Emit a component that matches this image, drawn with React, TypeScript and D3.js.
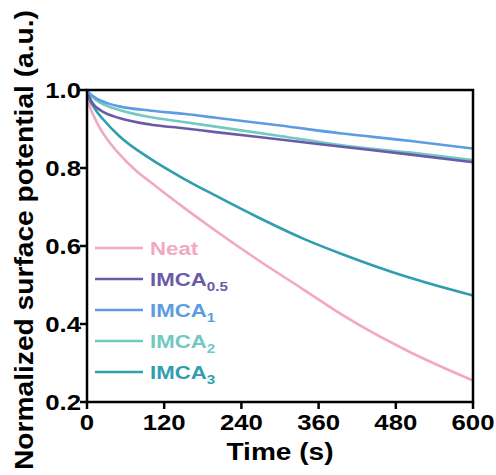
import React from "react";
import * as d3 from "d3";

const timeTicks = [0, 120, 240, 360, 480, 600];
const valueTicks = [0.2, 0.4, 0.6, 0.8, 1.0];

const neatT = [0, 2, 5, 10, 20, 30, 50, 75, 100, 150, 200, 264, 336, 400, 497, 600];
const neatV = [1.0, 0.975, 0.955, 0.935, 0.902, 0.877, 0.836, 0.795, 0.762, 0.699, 0.639, 0.566, 0.489, 0.42, 0.332, 0.255];

const imca05T = [0, 3, 8, 15, 25, 50, 100, 150, 200, 300, 393, 500, 600];
const imca05V = [1.0, 0.985, 0.968, 0.955, 0.944, 0.928, 0.911, 0.902, 0.892, 0.873, 0.855, 0.835, 0.815];

const imca1T = [0, 5, 15, 30, 50, 100, 150, 200, 300, 393, 500, 600];
const imca1V = [1.0, 0.99, 0.978, 0.967, 0.958, 0.947, 0.939, 0.929, 0.909, 0.889, 0.87, 0.85];

const imca2T = [0, 5, 15, 30, 50, 100, 150, 200, 300, 393, 500, 600];
const imca2V = [1.0, 0.988, 0.973, 0.96, 0.949, 0.93, 0.918, 0.906, 0.882, 0.859, 0.84, 0.82];

const imca3T = [0, 3, 8, 15, 25, 50, 100, 150, 200, 264, 336, 400, 497, 600];
const imca3V = [1.0, 0.98, 0.963, 0.945, 0.925, 0.882, 0.822, 0.773, 0.729, 0.675, 0.619, 0.577, 0.521, 0.473];

const seriesNames = ["Neat", "IMCA", "IMCA", "IMCA", "IMCA"];
const seriesSubs = ["", "0.5", "1", "2", "3"];
const seriesColors = ["#F2A8C4", "#6A5BA8", "#5C9CE2", "#72C8C2", "#2F9EAF"];
const seriesT = [neatT, imca05T, imca1T, imca2T, imca3T];
const seriesV = [neatV, imca05V, imca1V, imca2V, imca3V];
const drawOrder = [0, 4, 3, 1, 2];

export default function App() {
  const W = 496, H = 475;
  const x = d3.scaleLinear().domain([0, 600]).range([87, 473]);
  const y = d3.scaleLinear().domain([0.2, 1.0]).range([402, 90]);
  const font = "'Liberation Sans', Arial, sans-serif";
  const sx = 1.17;

  const line = d3
    .line<[number, number]>()
    .x((d) => x(d[0]))
    .y((d) => y(d[1]))
    .curve(d3.curveMonotoneX);

  return (
    <svg width={W} height={H} style={{ position: "absolute", left: 0, top: 0 }} fontFamily={font}>
      <rect width={W} height={H} fill="#fff" />
      {drawOrder.map((i) => (
        <path
          key={i}
          d={line(seriesT[i].map((t, k) => [t, seriesV[i][k]] as [number, number])) || ""}
          fill="none"
          stroke={seriesColors[i]}
          strokeWidth={2.6}
        />
      ))}
      {/* frame */}
      <rect x={x(0)} y={y(1.0)} width={x(600) - x(0)} height={y(0.2) - y(1.0)} fill="none" stroke="#000" strokeWidth={2.5} />
      {/* x ticks */}
      {timeTicks.map((t) => (
        <g key={t}>
          <line x1={x(t)} x2={x(t)} y1={y(0.2)} y2={y(0.2) + 7} stroke="#000" strokeWidth={2.5} />
          <text
            transform={`translate(${x(t)},430) scale(${sx},1)`}
            textAnchor="middle"
            fontSize={22}
            fontWeight="bold"
          >
            {t}
          </text>
        </g>
      ))}
      {/* y ticks */}
      {valueTicks.map((v) => (
        <g key={v}>
          <line x1={x(0) - 7} x2={x(0)} y1={y(v)} y2={y(v)} stroke="#000" strokeWidth={2.5} />
          <text
            transform={`translate(81,${y(v) + 8}) scale(${sx},1)`}
            textAnchor="end"
            fontSize={22}
            fontWeight="bold"
          >
            {v.toFixed(1)}
          </text>
        </g>
      ))}
      <text
        transform={`translate(280,460) scale(${sx},1)`}
        textAnchor="middle"
        fontSize={24}
        fontWeight="bold"
      >
        Time (s)
      </text>
      <text
        transform={`translate(33,240) rotate(-90)`}
        textAnchor="middle"
        fontSize={25}
        fontWeight="bold"
        textLength={460}
        lengthAdjust="spacingAndGlyphs"
      >
        Normalized surface potential (a.u.)
      </text>
      {/* legend */}
      {seriesNames.map((n, i) => {
        const ly = 248 + i * 31;
        return (
          <g key={i}>
            <line x1={95} x2={143} y1={ly} y2={ly} stroke={seriesColors[i]} strokeWidth={2.6} />
            <text
              transform={`translate(150,${ly + 7}) scale(${sx},1)`}
              fontSize={19}
              fontWeight="bold"
              fill={seriesColors[i]}
            >
              {n}
              {seriesSubs[i] && (
                <tspan fontSize={13} dy={5}>
                  {seriesSubs[i]}
                </tspan>
              )}
            </text>
          </g>
        );
      })}
    </svg>
  );
}
